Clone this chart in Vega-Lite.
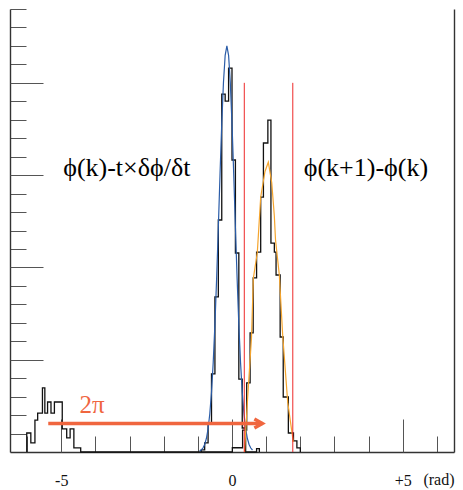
{
  "$schema": "https://vega.github.io/schema/vega-lite/v6.json",
  "width": 444,
  "height": 443,
  "autosize": "none",
  "padding": {"left": 10, "top": 9, "right": 9, "bottom": 38},
  "background": "white",
  "config": {
    "view": {"stroke": null},
    "axis": {
      "grid": false,
      "title": null,
      "domainColor": "#333333",
      "domainWidth": 1.4,
      "tickColor": "#555555",
      "tickWidth": 1,
      "labelFont": "Liberation Serif",
      "labelFontSize": 16,
      "labelColor": "#111111",
      "titleFont": "Liberation Serif",
      "titleFontSize": 16,
      "titleFontWeight": "normal",
      "titleColor": "#111111"
    },
    "text": {"font": "Liberation Serif"}
  },
  "resolve": {"axis": {"x": "independent", "y": "independent"}},
  "datasets": {
    "hist": [
      {"h": "A", "x": -0.9, "n": 0},
      {"h": "A", "x": -0.9, "n": 1.1},
      {"h": "A", "x": -0.8, "n": 4.9},
      {"h": "A", "x": -0.7, "n": 15.7},
      {"h": "A", "x": -0.6, "n": 42.3},
      {"h": "A", "x": -0.5, "n": 84.0},
      {"h": "A", "x": -0.4, "n": 125.7},
      {"h": "A", "x": -0.3, "n": 193.9},
      {"h": "A", "x": -0.2, "n": 190.1},
      {"h": "A", "x": -0.1, "n": 208.0},
      {"h": "A", "x": 0.0, "n": 158.2},
      {"h": "A", "x": 0.1, "n": 107.8},
      {"h": "A", "x": 0.2, "n": 39.5},
      {"h": "A", "x": 0.3, "n": 13.0},
      {"h": "A", "x": 0.4, "n": 0},
      {"h": "A", "x": 0.72, "n": 1.8},
      {"h": "A", "x": 0.8, "n": 0},
      {"h": "B", "x": -6.01, "n": 0},
      {"h": "B", "x": -6.01, "n": 10.3},
      {"h": "B", "x": -5.89, "n": 4.9},
      {"h": "B", "x": -5.77, "n": 17.3},
      {"h": "B", "x": -5.69, "n": 21.1},
      {"h": "B", "x": -5.55, "n": 34.7},
      {"h": "B", "x": -5.48, "n": 21.1},
      {"h": "B", "x": -5.40, "n": 27.1},
      {"h": "B", "x": -5.30, "n": 21.1},
      {"h": "B", "x": -5.20, "n": 27.1},
      {"h": "B", "x": -4.97, "n": 12.5},
      {"h": "B", "x": -4.84, "n": 7.6},
      {"h": "B", "x": -4.74, "n": 12.5},
      {"h": "B", "x": -4.63, "n": 2.2},
      {"h": "B", "x": -4.43, "n": 0},
      {"h": "B", "x": 0.01, "n": 2.3},
      {"h": "B", "x": 0.31, "n": 11.9},
      {"h": "B", "x": 0.43, "n": 37.4},
      {"h": "B", "x": 0.53, "n": 64.5},
      {"h": "B", "x": 0.62, "n": 94.3},
      {"h": "B", "x": 0.72, "n": 108.3},
      {"h": "B", "x": 0.84, "n": 138.1},
      {"h": "B", "x": 0.92, "n": 167.4},
      {"h": "B", "x": 1.05, "n": 179.8},
      {"h": "B", "x": 1.14, "n": 113.2},
      {"h": "B", "x": 1.24, "n": 108.3},
      {"h": "B", "x": 1.29, "n": 95.9},
      {"h": "B", "x": 1.41, "n": 62.3},
      {"h": "B", "x": 1.50, "n": 29.8},
      {"h": "B", "x": 1.65, "n": 10.3},
      {"h": "B", "x": 1.80, "n": 6.0},
      {"h": "B", "x": 1.90, "n": 2.2},
      {"h": "B", "x": 2.00, "n": 0}
    ],
    "fitA": [
      {"x": -0.95, "f": 0.52}, {"x": -0.9, "f": 1.08}, {"x": -0.85, "f": 2.15},
      {"x": -0.8, "f": 4.05}, {"x": -0.75, "f": 7.32}, {"x": -0.7, "f": 12.6},
      {"x": -0.65, "f": 20.7}, {"x": -0.6, "f": 32.4}, {"x": -0.55, "f": 48.5},
      {"x": -0.5, "f": 69.1}, {"x": -0.45, "f": 94.0}, {"x": -0.4, "f": 121.8},
      {"x": -0.35, "f": 150.7}, {"x": -0.3, "f": 177.9}, {"x": -0.25, "f": 200.2},
      {"x": -0.2, "f": 214.9}, {"x": -0.15, "f": 220.0}, {"x": -0.1, "f": 214.9},
      {"x": -0.05, "f": 200.2}, {"x": 0.0, "f": 177.9}, {"x": 0.05, "f": 150.7},
      {"x": 0.1, "f": 121.8}, {"x": 0.15, "f": 94.0}, {"x": 0.2, "f": 69.1},
      {"x": 0.25, "f": 48.5}, {"x": 0.3, "f": 32.4}, {"x": 0.35, "f": 20.7},
      {"x": 0.4, "f": 12.6}, {"x": 0.45, "f": 7.32}, {"x": 0.5, "f": 4.05},
      {"x": 0.55, "f": 2.15}, {"x": 0.6, "f": 1.08}
    ],
    "fitB": [
      {"x": 0.366, "f": 0}, {"x": 0.454, "f": 28}, {"x": 0.571, "f": 62},
      {"x": 0.624, "f": 94}, {"x": 0.741, "f": 108}, {"x": 0.84, "f": 138},
      {"x": 0.966, "f": 152}, {"x": 1.063, "f": 157}, {"x": 1.163, "f": 146},
      {"x": 1.239, "f": 128}, {"x": 1.274, "f": 115}, {"x": 1.385, "f": 96},
      {"x": 1.485, "f": 63}, {"x": 1.631, "f": 27}, {"x": 1.795, "f": 5.4}
    ],
    "range": [
      {"x": 0.36, "lo": 0, "hi": 200},
      {"x": 1.78, "lo": 0, "hi": 200}
    ],
    "shift": [
      {"from": -5.38, "to": 0.89, "y": 15.4}
    ],
    "labels": [
      {"x": -3.08, "y": 153.8, "t": "ϕ(k)-t×δϕ/δt"},
      {"x": 3.92, "y": 153.8, "t": "ϕ(k+1)-ϕ(k)"}
    ],
    "shiftLabel": [
      {"x": -4.1, "y": 25.5, "t": "2π"}
    ]
  },
  "layer": [
    {
      "data": {"name": "hist"},
      "mark": {"type": "line", "interpolate": "step-after", "color": "#111111", "strokeWidth": 1.3},
      "encoding": {
        "x": {
          "field": "x", "type": "quantitative",
          "scale": {"domain": [-6.5, 6.5], "nice": false, "zero": false},
          "axis": {
            "orient": "bottom", "values": [-6, -4, -3, -2, -1, 1, 2, 3, 4, 6], "tickSize": -16, "labels": false, "domain": true,
            "title": "(rad)", "titleAnchor": "end", "titleAlign": "right", "titleBaseline": "top", "titlePadding": 19
          }
        },
        "y": {
          "field": "n", "type": "quantitative",
          "scale": {"domain": [0, 240], "nice": false, "zero": true},
          "axis": {"orient": "left", "values": [10, 20, 30, 40, 60, 70, 80, 90, 110, 120, 130, 140, 160, 170, 180, 190, 210, 220, 230, 240], "tickSize": -16, "labels": false, "domain": true}
        },
        "detail": {"field": "h"},
        "order": {"value": null}
      }
    },
    {
      "data": {"name": "fitA"},
      "mark": {"type": "line", "color": "#2a5ca8", "strokeWidth": 1.2},
      "encoding": {
        "x": {
          "field": "x", "type": "quantitative",
          "scale": {"domain": [-6.5, 6.5], "nice": false, "zero": false},
          "axis": {
            "orient": "bottom", "values": [-5, 0, 5], "tickSize": -33, "domain": false,
            "labelPadding": 53, "labelFlush": false, "labelBound": false,
            "labelExpr": "datum.value < 0 ? '-5' : datum.value > 0 ? '+5' : '0'"
          }
        },
        "y": {
          "field": "f", "type": "quantitative",
          "scale": {"domain": [0, 240], "nice": false, "zero": true},
          "axis": {"orient": "left", "values": [50, 100, 150, 200], "tickSize": -33, "labels": false, "domain": false}
        }
      }
    },
    {
      "data": {"name": "fitB"},
      "mark": {"type": "line", "color": "#f5a52e", "strokeWidth": 1.2},
      "encoding": {
        "x": {
          "field": "x", "type": "quantitative",
          "scale": {"domain": [-6.5, 6.5], "nice": false, "zero": false},
          "axis": null
        },
        "y": {
          "field": "f", "type": "quantitative",
          "scale": {"domain": [0, 240], "nice": false, "zero": true},
          "axis": {"orient": "right", "ticks": false, "labels": false, "domain": true}
        }
      }
    },
    {
      "data": {"name": "range"},
      "mark": {"type": "rule", "color": "#ee2a2a", "strokeWidth": 1},
      "encoding": {
        "x": {"field": "x", "type": "quantitative", "axis": null},
        "y": {"field": "lo", "type": "quantitative", "axis": null},
        "y2": {"field": "hi"}
      }
    },
    {
      "data": {"name": "shift"},
      "mark": {"type": "rule", "color": "#f0663f", "strokeWidth": 3.4},
      "encoding": {
        "x": {"field": "from", "type": "quantitative", "axis": null},
        "x2": {"field": "to"},
        "y": {"field": "y", "type": "quantitative", "axis": null}
      }
    },
    {
      "data": {"name": "shift"},
      "mark": {
        "type": "point",
        "shape": "M-1.6,-0.9L0,0L-1.6,0.9",
        "size": 100,
        "filled": false,
        "opacity": 1,
        "color": "#f0663f",
        "strokeWidth": 3.4,
        "strokeJoin": "miter"
      },
      "encoding": {
        "x": {"field": "to", "type": "quantitative", "axis": null},
        "y": {"field": "y", "type": "quantitative", "axis": null}
      }
    },
    {
      "data": {"name": "labels"},
      "mark": {"type": "text", "font": "Liberation Serif", "fontSize": 26, "color": "#000000", "align": "center", "baseline": "middle"},
      "encoding": {
        "x": {"field": "x", "type": "quantitative", "axis": null},
        "y": {"field": "y", "type": "quantitative", "axis": null},
        "text": {"field": "t"}
      }
    },
    {
      "data": {"name": "shiftLabel"},
      "mark": {"type": "text", "font": "Liberation Serif", "fontSize": 25, "color": "#f0663f", "align": "center", "baseline": "middle"},
      "encoding": {
        "x": {"field": "x", "type": "quantitative", "axis": null},
        "y": {"field": "y", "type": "quantitative", "axis": null},
        "text": {"field": "t"}
      }
    }
  ]
}
